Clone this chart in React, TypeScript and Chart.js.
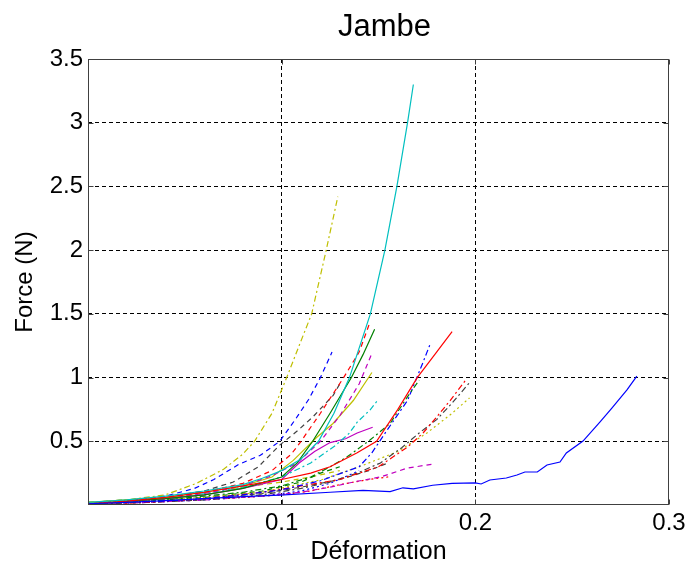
import React, { useEffect, useRef } from 'react';
import { Chart, registerables } from 'chart.js';

Chart.register(...registerables);

// ---------- axis ticks ----------
const xTicks = [0.1, 0.2, 0.3];
const xTickLabels = ['0.1', '0.2', '0.3'];
const yTicks = [0.5, 1, 1.5, 2, 2.5, 3, 3.5];
const yTickLabels = ['0.5', '1', '1.5', '2', '2.5', '3', '3.5'];

const titleText = 'Jambe';
const xTitle = 'Déformation';
const yTitle = 'Force (N)';

// ---------- series data (Déformation, Force) ----------
const s01x = [0, 0.02, 0.04, 0.06, 0.08, 0.099, 0.125, 0.142, 0.156, 0.1626, 0.168, 0.178, 0.188, 0.2, 0.203, 0.2075, 0.216, 0.2215, 0.2256, 0.232, 0.237, 0.2437, 0.247, 0.2556, 0.2643, 0.2705, 0.2783, 0.2834];
const s01y = [0.01, 0.02, 0.035, 0.05, 0.065, 0.078, 0.1, 0.115, 0.105, 0.135, 0.126, 0.155, 0.17, 0.173, 0.165, 0.196, 0.212, 0.235, 0.259, 0.259, 0.314, 0.337, 0.408, 0.502, 0.651, 0.761, 0.903, 1.012];

const s02x = [0, 0.02, 0.04, 0.06, 0.08, 0.09, 0.1, 0.11, 0.119, 0.127, 0.135, 0.1458, 0.1533, 0.1595, 0.165, 0.168];
const s02y = [0.02, 0.04, 0.07, 0.11, 0.16, 0.21, 0.27, 0.36, 0.5, 0.72, 1.0, 1.5, 2.0, 2.5, 3.0, 3.3];

const s03x = [0, 0.02, 0.04, 0.056, 0.07, 0.08, 0.086, 0.095, 0.1026, 0.109, 0.1155, 0.123, 0.129];
const s03y = [0.02, 0.04, 0.08, 0.17, 0.28, 0.4, 0.5, 0.72, 1.0, 1.25, 1.5, 2.0, 2.42];

const s04x = [0, 0.02, 0.04, 0.06, 0.08, 0.1, 0.115, 0.125, 0.139, 0.149, 0.16, 0.17, 0.18, 0.188];
const s04y = [0.01, 0.03, 0.06, 0.1, 0.15, 0.2, 0.25, 0.3, 0.41, 0.5, 0.75, 1.0, 1.2, 1.36];

const s05x = [0, 0.02, 0.04, 0.06, 0.08, 0.1, 0.108, 0.116, 0.125, 0.136, 0.142, 0.148];
const s05y = [0.01, 0.03, 0.05, 0.08, 0.13, 0.22, 0.33, 0.5, 0.72, 1.0, 1.18, 1.38];

const s06x = [0, 0.02, 0.04, 0.06, 0.08, 0.095, 0.105, 0.11, 0.12, 0.132, 0.14, 0.1455];
const s06y = [0.01, 0.03, 0.06, 0.1, 0.17, 0.27, 0.4, 0.5, 0.72, 1.0, 1.2, 1.43];

const s07x = [0, 0.02, 0.04, 0.055, 0.065, 0.078, 0.089, 0.099, 0.107, 0.114, 0.12, 0.126];
const s07y = [0.01, 0.03, 0.07, 0.13, 0.2, 0.32, 0.39, 0.5, 0.67, 0.83, 1.0, 1.2];

const s08x = [0, 0.02, 0.04, 0.06, 0.08, 0.095, 0.108, 0.12, 0.13, 0.14, 0.1466];
const s08y = [0.01, 0.03, 0.05, 0.09, 0.15, 0.23, 0.33, 0.5, 0.7, 0.95, 1.19];

const s09x = [0, 0.02, 0.04, 0.06, 0.08, 0.095, 0.106, 0.118, 0.1265, 0.137, 0.1466];
const s09y = [0.02, 0.04, 0.06, 0.1, 0.15, 0.22, 0.35, 0.53, 0.64, 0.82, 1.04];

const s10x = [0, 0.02, 0.04, 0.06, 0.075, 0.088, 0.099, 0.108, 0.116, 0.1266, 0.13];
const s10y = [0.01, 0.03, 0.06, 0.11, 0.18, 0.3, 0.47, 0.58, 0.69, 0.86, 0.95];

const s11x = [0, 0.02, 0.04, 0.06, 0.08, 0.1, 0.115, 0.128, 0.135, 0.139, 0.1456, 0.15];
const s11y = [0.02, 0.04, 0.06, 0.09, 0.14, 0.22, 0.33, 0.47, 0.565, 0.65, 0.745, 0.83];

const s12x = [0, 0.02, 0.04, 0.06, 0.08, 0.1, 0.109, 0.117, 0.125, 0.133, 0.139, 0.147];
const s12y = [0.01, 0.03, 0.05, 0.08, 0.13, 0.2, 0.33, 0.42, 0.49, 0.52, 0.565, 0.61];

const s13x = [0, 0.02, 0.04, 0.06, 0.08, 0.1, 0.115, 0.125, 0.134, 0.1456, 0.156, 0.165, 0.171];
const s13y = [0.01, 0.02, 0.04, 0.07, 0.1, 0.15, 0.22, 0.3, 0.38, 0.51, 0.64, 0.85, 0.98];

const s14x = [0, 0.02, 0.04, 0.06, 0.08, 0.1, 0.12, 0.14, 0.1466, 0.155, 0.165, 0.173, 0.1766];
const s14y = [0.01, 0.02, 0.03, 0.05, 0.08, 0.12, 0.19, 0.3, 0.41, 0.6, 0.82, 1.12, 1.26];

const s15x = [0, 0.03, 0.06, 0.09, 0.11, 0.13, 0.15, 0.165, 0.173, 0.18, 0.187, 0.195];
const s15y = [0.01, 0.02, 0.05, 0.1, 0.15, 0.2, 0.3, 0.455, 0.565, 0.69, 0.82, 0.98];

const s16x = [0, 0.03, 0.06, 0.09, 0.11, 0.125, 0.139, 0.151, 0.162, 0.171, 0.18, 0.188, 0.197];
const s16y = [0.01, 0.02, 0.04, 0.08, 0.13, 0.18, 0.25, 0.33, 0.45, 0.565, 0.67, 0.8, 0.96];

const s17x = [0, 0.03, 0.06, 0.09, 0.105, 0.121, 0.14, 0.16, 0.175, 0.188, 0.197];
const s17y = [0.01, 0.03, 0.06, 0.1, 0.15, 0.2, 0.3, 0.42, 0.565, 0.72, 0.84];

const s18x = [0, 0.03, 0.06, 0.09, 0.11, 0.125, 0.137, 0.151, 0.165, 0.1776];
const s18y = [0.01, 0.02, 0.04, 0.07, 0.1, 0.14, 0.18, 0.22, 0.29, 0.32];

const s19x = [0, 0.04, 0.08, 0.1, 0.115, 0.13, 0.145, 0.155];
const s19y = [0.01, 0.03, 0.06, 0.08, 0.11, 0.16, 0.2, 0.22];

const s20x = [0, 0.03, 0.06, 0.09, 0.11, 0.12, 0.13];
const s20y = [0.01, 0.03, 0.06, 0.11, 0.18, 0.25, 0.3];

const s21x = [0, 0.03, 0.06, 0.09, 0.11, 0.13, 0.145, 0.155];
const s21y = [0.01, 0.02, 0.05, 0.09, 0.14, 0.2, 0.27, 0.33];

const s22x = [0, 0.03, 0.06, 0.09, 0.11, 0.125, 0.134, 0.14];
const s22y = [0.01, 0.02, 0.04, 0.07, 0.11, 0.17, 0.23, 0.27];

const s23x = [0, 0.03, 0.06, 0.08, 0.1, 0.115, 0.13];
const s23y = [0.02, 0.05, 0.1, 0.14, 0.18, 0.22, 0.27];

const seriesX = [s01x, s02x, s03x, s04x, s05x, s06x, s07x, s08x, s09x, s10x, s11x, s12x, s13x, s14x, s15x, s16x, s17x, s18x, s19x, s20x, s21x, s22x, s23x];
const seriesY = [s01y, s02y, s03y, s04y, s05y, s06y, s07y, s08y, s09y, s10y, s11y, s12y, s13y, s14y, s15y, s16y, s17y, s18y, s19y, s20y, s21y, s22y, s23y];

// ---------- styles (MATLAB classic colour order) ----------
const C = { b: '#0000ff', g: '#008000', r: '#ff0000', c: '#00bfbf', m: '#bf00bf', y: '#bfbf00', k: '#404040' };
const SOLID: number[] = [];
const DASH = [5, 4];
const DASHDOT = [6, 3, 2, 3];
const DOT = [2, 3];
const seriesColor = [C.b, C.c, C.y, C.r, C.g, C.r, C.b, C.m, C.y, C.k, C.c, C.m, C.g, C.b, C.r, C.k, C.y, C.m, C.r, C.g, C.k, C.b, C.y];
const seriesDash = [SOLID, SOLID, DASHDOT, SOLID, SOLID, DASH, DASH, DASH, SOLID, DASH, DASHDOT, SOLID, DASHDOT, DASHDOT, DASHDOT, DASHDOT, DOT, DASH, DOT, DASH, DASH, DOT, DASH];

const FONT = "'Liberation Sans', Arial, sans-serif";

const boxPlugin = {
  id: 'matlabBox',
  afterDraw(chart: any) {
    const { ctx, chartArea: a, scales } = chart;
    ctx.save();
    ctx.setLineDash([]);
    ctx.strokeStyle = '#404040';
    ctx.lineWidth = 1;
    const L = Math.round(a.left) + 0.5;
    const R = Math.round(a.right) - 0.5;
    const T = Math.round(a.top) + 0.5;
    const B = Math.round(a.bottom) - 0.5;
    ctx.strokeRect(L, T, R - L, B - T);
    const tl = 5;
    ctx.beginPath();
    xTicks.forEach((v) => {
      const px = Math.round(scales.x.getPixelForValue(v)) + 0.5;
      ctx.moveTo(px, B); ctx.lineTo(px, B - tl);
      ctx.moveTo(px, T); ctx.lineTo(px, T + tl);
    });
    yTicks.forEach((v) => {
      const py = Math.round(scales.y.getPixelForValue(v)) + 0.5;
      ctx.moveTo(L, py); ctx.lineTo(L + tl, py);
      ctx.moveTo(R, py); ctx.lineTo(R - tl, py);
    });
    ctx.stroke();
    // title above the axes box
    ctx.fillStyle = '#000';
    ctx.font = `31px ${FONT}`;
    ctx.textAlign = 'center';
    ctx.textBaseline = 'middle';
    ctx.fillText(titleText, (a.left + a.right) / 2 + 6, 27);
    ctx.restore();
  },
};

export default function App() {
  const ref = useRef<HTMLCanvasElement | null>(null);

  useEffect(() => {
    document.body.style.margin = '0';
    const canvas = ref.current;
    if (!canvas) return;
    const datasets = seriesX.map((xs, i) => ({
      label: 'S' + (i + 1),
      data: xs.map((x, j) => ({ x, y: seriesY[i][j] })),
      borderColor: seriesColor[i],
      backgroundColor: seriesColor[i],
      borderDash: seriesDash[i],
      borderWidth: 1.2,
      pointRadius: 0,
      fill: false,
      tension: 0,
    }));
    const chart = new Chart(canvas, {
      type: 'line',
      data: { datasets },
      plugins: [boxPlugin],
      options: {
        animation: false,
        responsive: false,
        maintainAspectRatio: false,
        devicePixelRatio: 1,
        layout: { padding: { left: 0, right: 22, top: 59, bottom: 0 } },
        plugins: {
          legend: { display: false },
          tooltip: { enabled: false },
          title: { display: false },
        },
        scales: {
          x: {
            type: 'linear',
            min: 0,
            max: 0.3,
            afterBuildTicks: (s: any) => { s.ticks = xTicks.map((v) => ({ value: v })); },
            afterFit: (s: any) => { s.height = 62; },
            ticks: {
              callback: (_v: any, i: number) => xTickLabels[i],
              color: '#000',
              font: { family: FONT, size: 24 },
              padding: 4,
              maxRotation: 0,
              autoSkip: false,
            },
            grid: {
              drawTicks: false,
              color: (ctx: any) => (ctx.index === xTicks.length - 1 ? 'rgba(0,0,0,0)' : '#000'),
              lineWidth: 1,
            },
            border: { display: false, dash: [4, 3] },
            title: {
              display: true,
              text: xTitle,
              color: '#000',
              font: { family: FONT, size: 25 },
              padding: { top: 0, bottom: 0 },
            },
          },
          y: {
            type: 'linear',
            min: 0,
            max: 3.5,
            afterBuildTicks: (s: any) => { s.ticks = yTicks.map((v) => ({ value: v })); },
            afterFit: (s: any) => { s.width = 88; },
            ticks: {
              callback: (_v: any, i: number) => yTickLabels[i],
              color: '#000',
              font: { family: FONT, size: 24 },
              padding: 5,
              autoSkip: false,
            },
            grid: {
              drawTicks: false,
              color: (ctx: any) => (ctx.index === yTicks.length - 1 ? 'rgba(0,0,0,0)' : '#000'),
              lineWidth: 1,
            },
            border: { display: false, dash: [4, 3] },
            title: {
              display: true,
              text: yTitle,
              color: '#000',
              font: { family: FONT, size: 24 },
              padding: { top: 11, bottom: 0 },
            },
          },
        },
      } as any,
    });
    return () => chart.destroy();
  }, []);

  return (
    <div style={{ width: 691, height: 567, background: '#fff' }}>
      <canvas ref={ref} width={691} height={567} style={{ display: 'block', width: 691, height: 567 }} />
    </div>
  );
}
